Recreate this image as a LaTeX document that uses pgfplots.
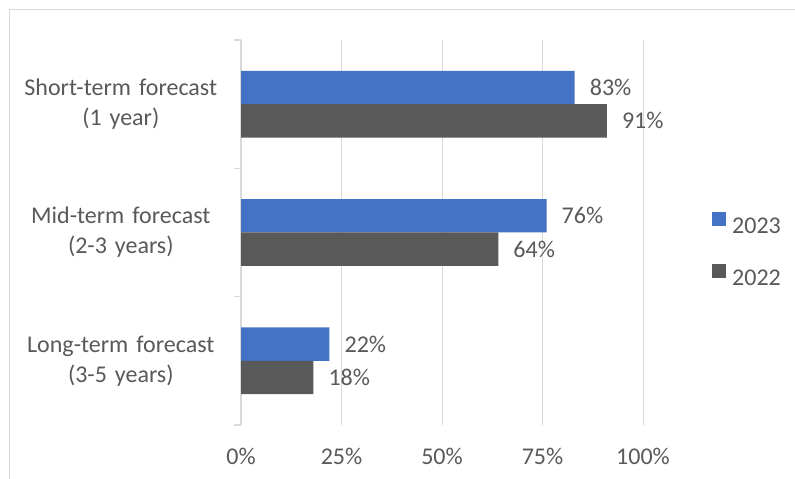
\documentclass[border=0pt]{standalone}
\usepackage{pgfplots}
\pgfplotsset{compat=1.18}
\usepackage{fontspec}
\setmainfont{Carlito}
\definecolor{blueA}{HTML}{4472C4}
\definecolor{grayA}{HTML}{595959}
\definecolor{gridc}{HTML}{D9D9D9}
\definecolor{txt}{HTML}{595959}
\begin{document}
\begin{tikzpicture}[font=\fontsize{24bp}{30bp}\selectfont]
\useasboundingbox (0,0) rectangle (795bp,479bp);
\draw[gridc, line width=1.5bp] (9.5bp,0) -- (9.5bp,469.5bp) -- (795bp,469.5bp);
\begin{axis}[
  at={(241bp,54bp)}, anchor=south west,
  scale only axis, width=402bp, height=385bp,
  xmin=0, xmax=100, ymin=-0.5, ymax=2.5,
  xbar, bar width=0.26,
  clip=false,
  /pgf/number format/assume math mode=true,
  axis x line*=bottom, axis y line*=left,
  x axis line style={draw=none},
  y axis line style={draw=gridc, line width=1.5bp},
  xtick={0,25,50,75,100},
  xticklabels={0\%,25\%,50\%,75\%,100\%},
  ytick={0,1,2},
  yticklabels={{Long-term forecast\\(3-5 years)},{Mid-term forecast\\(2-3 years)},{Short-term forecast\\(1 year)}},
  minor ytick={-0.5,0.5,1.5,2.5},
  tick align=outside,
  major tick length=0pt,
  minor tick length=7bp,
  minor tick style={gridc, line width=1.5bp},
  xmajorgrids, major grid style={gridc, line width=1bp},
  xticklabel style={text=txt, inner sep=0pt, anchor=north, yshift=-23bp},
  yticklabel style={text=txt, inner sep=0pt, text width=200bp, align=center, anchor=east, xshift=-20bp},
  point meta=x,
  nodes near coords={\pgfmathprintnumber{\pgfplotspointmeta}\%},
  every node near coord/.append style={text=txt, inner sep=0pt, anchor=west, xshift=15bp},
  legend style={draw=none, fill=none, at={(1.1716,0.456)}, anchor=west, inner sep=0pt, row sep=29bp, column sep=6bp, nodes={inner sep=0pt, text=txt}},
  legend cell align=left,
  legend image code/.code={\fill[#1] (0bp,0.6bp) rectangle (14bp,14.6bp);},
]
\addplot[fill=blueA, draw=none, bar shift=0.13] coordinates {(22,0) (76,1) (83,2)};
\addplot[fill=grayA, draw=none, bar shift=-0.13] coordinates {(18,0) (64,1) (91,2)};
\legend{2023,2022}
\end{axis}
\end{tikzpicture}
\end{document}
